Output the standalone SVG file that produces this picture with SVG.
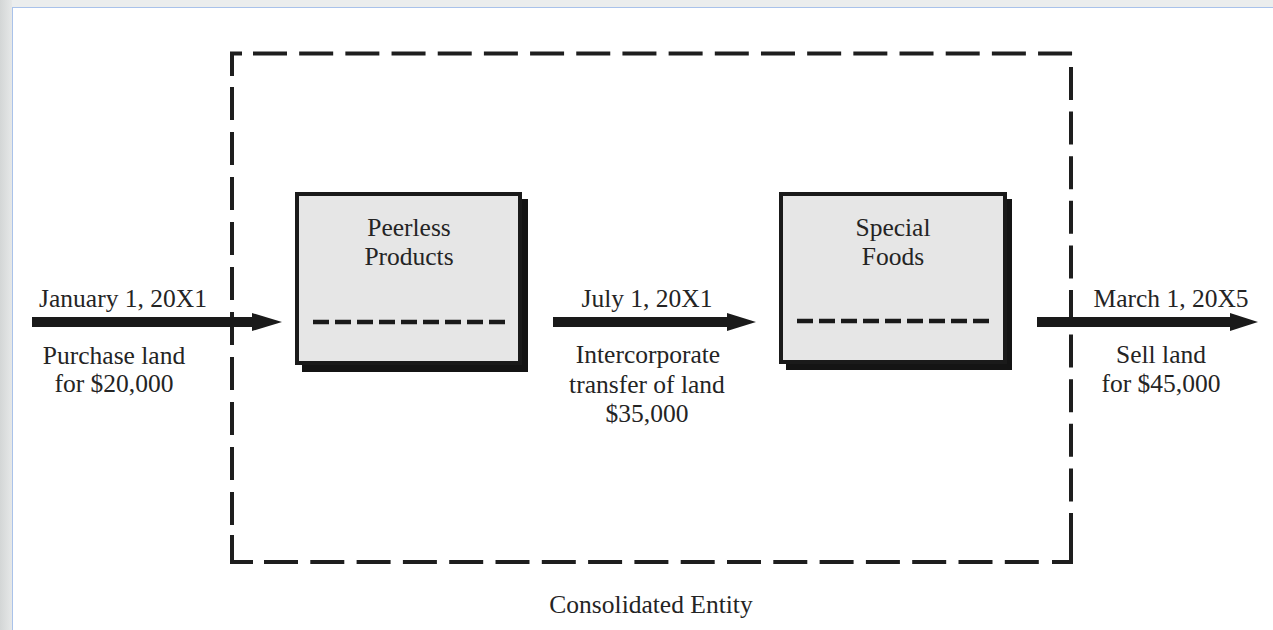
<svg xmlns="http://www.w3.org/2000/svg" width="1273" height="630" viewBox="0 0 1273 630">
  <defs>
    <style>
      .txt { font-family: "Liberation Serif", "Times New Roman", serif; font-size: 25.5px; fill: #242424; text-anchor: middle; }
      .frame { fill: none; stroke: #1e1e1e; stroke-width: 4; stroke-linecap: butt; stroke-linejoin: miter; }
      .box { fill: #e6e6e6; stroke: #1a1a1a; stroke-width: 4; }
      .shadow { fill: #141414; }
      .inner { fill: none; stroke: #1a1a1a; stroke-width: 4.5; stroke-dasharray: 16 6; }
      .arrow { fill: #1a1a1a; }
    </style>
    <linearGradient id="sideShade" x1="0" y1="0" x2="1" y2="0">
      <stop offset="0" stop-color="#d3d6d6"/>
      <stop offset="1" stop-color="#e6e8e8"/>
    </linearGradient>
  </defs>

  <!-- page background and white sheet -->
  <rect x="0" y="0" width="1273" height="630" fill="#ebeded"/>
  <rect x="0" y="0" width="12" height="630" fill="url(#sideShade)"/>
  <rect x="12.5" y="7.5" width="1270" height="630" fill="#ffffff" stroke="#a9c2ea" stroke-width="1"/>

  <!-- consolidated entity boundary (dashed) -->
  <g id="consolidated-entity">
    <path class="frame" d="M232,76 V53.5 H242"/>
    <path class="frame" d="M253,53.5 H1073" stroke-dasharray="34 12.18"/>
    <path class="frame" d="M1071,67 V502" stroke-dasharray="33 11.6"/>
    <path class="frame" d="M1071,513 V562 H1052"/>
    <path class="frame" d="M264,562 H1041" stroke-dasharray="34 12.3"/>
    <path class="frame" d="M232,535 V562 H253"/>
    <path class="frame" d="M232,87 V525" stroke-dasharray="33 12"/>
    <text class="txt" x="651" y="613">Consolidated Entity</text>
  </g>

  <!-- Peerless Products -->
  <g id="peerless-products">
    <rect class="shadow" x="302" y="199" width="226" height="173"/>
    <rect class="box" x="297" y="194" width="223" height="169"/>
    <text class="txt" x="409" y="236">Peerless</text>
    <text class="txt" x="409" y="265">Products</text>
    <line class="inner" x1="313" y1="322" x2="505" y2="322"/>
  </g>

  <!-- Special Foods -->
  <g id="special-foods">
    <rect class="shadow" x="786" y="199" width="226" height="171"/>
    <rect class="box" x="781" y="194" width="224" height="168"/>
    <text class="txt" x="893" y="236">Special</text>
    <text class="txt" x="893" y="265">Foods</text>
    <line class="inner" x1="797" y1="321" x2="990" y2="321"/>
  </g>

  <!-- connectors -->
  <g id="connectors">
    <g id="purchase">
      <rect class="arrow" x="32" y="317" width="222" height="10"/>
      <polygon class="arrow" points="252,313 282,322 252,331"/>
      <text class="txt" x="123" y="307">January 1, 20X1</text>
      <text class="txt" x="114" y="364">Purchase land</text>
      <text class="txt" x="114" y="392">for $20,000</text>
    </g>
    <g id="transfer">
      <rect class="arrow" x="553" y="317" width="177" height="10"/>
      <polygon class="arrow" points="727,313 756,322 727,331"/>
      <text class="txt" x="647" y="307">July 1, 20X1</text>
      <text class="txt" x="648" y="363">Intercorporate</text>
      <text class="txt" x="647" y="393">transfer of land</text>
      <text class="txt" x="647" y="422">$35,000</text>
    </g>
    <g id="sale">
      <rect class="arrow" x="1037" y="317" width="195" height="10"/>
      <polygon class="arrow" points="1230,313 1258,322 1230,331"/>
      <text class="txt" x="1171" y="307">March 1, 20X5</text>
      <text class="txt" x="1161" y="363">Sell land</text>
      <text class="txt" x="1161" y="392">for $45,000</text>
    </g>
  </g>
</svg>
